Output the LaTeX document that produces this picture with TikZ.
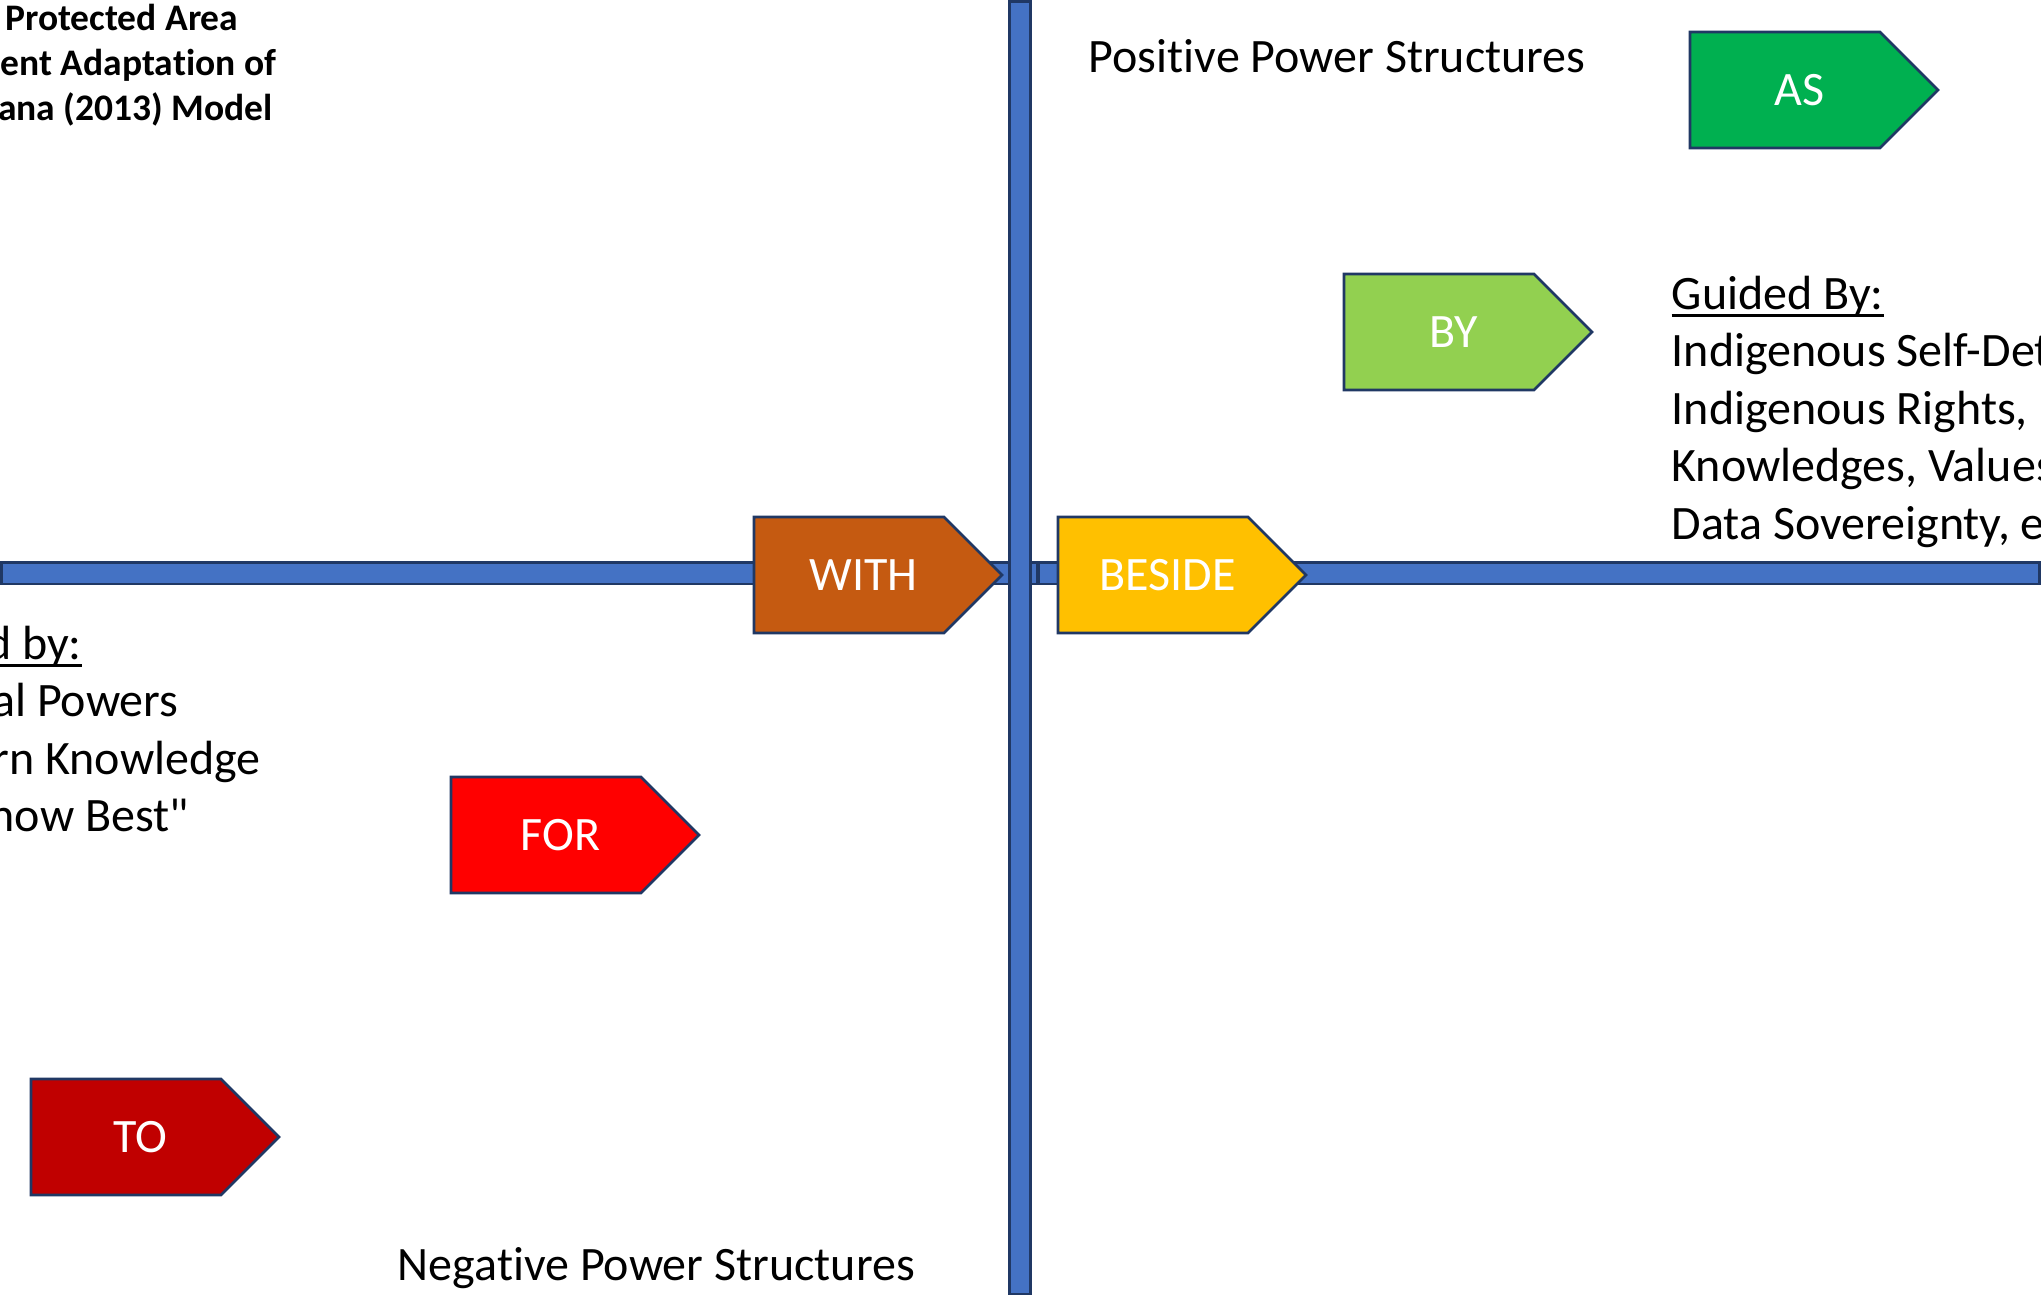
\documentclass[tikz,border=0pt]{standalone}
\usepackage{fontspec}
\setmainfont{Carlito}[Ligatures={NoCommon,TeXOff}]
\definecolor{barfill}{HTML}{4472C4}
\definecolor{navy}{HTML}{203864}
\definecolor{asgreen}{HTML}{00B050}
\definecolor{bygreen}{HTML}{92D050}
\definecolor{withbrown}{HTML}{C55A11}
\definecolor{besideyellow}{HTML}{FFC000}
\definecolor{forred}{HTML}{FF0000}
\definecolor{todarkred}{HTML}{C00000}
\tikzset{
  bar/.style={fill=barfill, draw=navy, line width=2.4pt},
  plate/.style={draw=navy, line width=2.6pt, line join=miter},
  plabel/.style={text=white, font=\fontsize{48}{57.6}\selectfont, inner sep=0pt, anchor=base},
  txt/.style={font=\fontsize{48}{57.6}\selectfont, inner sep=0pt, anchor=base west},
  ttl/.style={font=\bfseries\fontsize{37.5}{45}\selectfont, inner sep=0pt, anchor=base west},
  uline/.style={line width=2.8pt},
}
\newcommand\homeplate[5]{%
  \draw[plate, fill=#4] (#2,#3) -- ++(190,0) -- ++(58,58) -- ++(-58,58) -- ++(-190,0) -- cycle;
  \node[plabel] (#1) at (#2+109.5,#3+73.2) {#5};
}
\begin{document}
\begin{tikzpicture}[x=1pt,y=-1pt]
\path[use as bounding box] (0,0) rectangle (2041,1297);
\clip (0,0) rectangle (2041,1297);
\fill[white] (0,0) rectangle (2041,1297);
% axes
\draw[bar] (1.5,562.5) rectangle (1037,584);
\draw[bar] (1039,562.5) rectangle (2039.5,584);
\draw[bar] (1009.5,1.5) rectangle (1030.5,1294);
% plates
\homeplate{as}{1690}{32}{asgreen}{AS}
\homeplate{by}{1344}{274}{bygreen}{BY}
\homeplate{with}{754}{517}{withbrown}{WITH}
\homeplate{beside}{1058}{517}{besideyellow}{BESIDE}
\homeplate{for}{451}{777}{forred}{FOR}
\homeplate{to}{31}{1079}{todarkred}{TO}
% title
\node[ttl] (t1) at (5,31) {Protected Area};
\node[ttl] (t2) at (-30,76) {ment Adaptation of};
\node[ttl] (t3) at (-2,121) {ana (2013) Model};
% headings
\node[txt] (pos) at (1088.6,73) {Positive Power Structures};
\node[txt] (neg) at (397.6,1280) {Negative Power Structures};
% right block
\node[txt] (gb) at (1671.5,309) {Guided By:};
\draw[uline] ([yshift=-6.5pt]gb.base west) -- ([yshift=-6.5pt]gb.base east);
\node[txt] (r1) at (1671.5,366.6) {Indigenous Self-Det};
\node[txt] (r2) at (1671.5,424.2) {Indigenous Rights,};
\node[txt] (r3) at (1671.5,481.8) {Knowledges, Values};
\node[txt] (r4) at (1671.5,539.4) {Data Sovereignty, e};
% left block
\node[txt] (lb) at (-14,659) {d by:};
\draw[uline] ([yshift=-6.5pt]lb.base west) -- ([yshift=-6.5pt]lb.base east);
\node[txt] (l1) at (-8,716.5) {al Powers};
\node[txt] (l2) at (-7.5,774) {rn Knowledge};
\node[txt] (l3) at (-10.4,831) {now Best"};
\end{tikzpicture}
\end{document}
